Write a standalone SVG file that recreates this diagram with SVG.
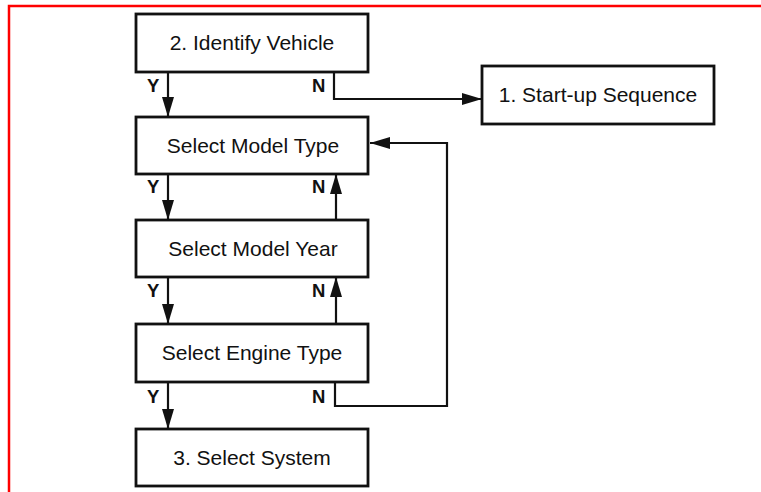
<svg xmlns="http://www.w3.org/2000/svg" width="761" height="492" viewBox="0 0 761 492">
<style>
.box{fill:#fff;stroke:#111;stroke-width:2.8}
.lbl{font-family:"Liberation Sans",Arial,sans-serif;font-size:21px;fill:#111;text-anchor:middle}
.yn{font-family:"Liberation Sans",Arial,sans-serif;font-size:18.5px;font-weight:bold;fill:#111}
.con{fill:none;stroke:#111;stroke-width:2.2}
</style>
<defs>
<marker id="ah" viewBox="0 0 20 12" refX="20" refY="6" markerWidth="20" markerHeight="12" markerUnits="userSpaceOnUse" orient="auto">
<path d="M0,0 L20,6 L0,12 Z" fill="#111"/>
</marker>
</defs>
<rect width="761" height="492" fill="#fff"/>
<path d="M9,492 V6 H761" fill="none" stroke="#f00" stroke-width="2.5"/>
<g id="identify"><rect class="box" x="136" y="14" width="232" height="58"/><text class="lbl" x="252" y="50">2. Identify Vehicle</text></g>
<g id="startup"><rect class="box" x="482" y="66" width="232" height="58"/><text class="lbl" x="598" y="102">1. Start-up Sequence</text></g>
<g id="modeltype"><rect class="box" x="136" y="117" width="232" height="57"/><text class="lbl" x="253" y="153">Select Model Type</text></g>
<g id="modelyear"><rect class="box" x="136" y="220" width="232" height="57"/><text class="lbl" x="253" y="256">Select Model Year</text></g>
<g id="enginetype"><rect class="box" x="136" y="324" width="232" height="58"/><text class="lbl" x="252" y="360">Select Engine Type</text></g>
<g id="system"><rect class="box" x="136" y="429" width="232" height="57"/><text class="lbl" x="252" y="465">3. Select System</text></g>
<g id="connectors">
<path class="con" d="M168,73 V117" marker-end="url(#ah)"/>
<path class="con" d="M334,73 V99 H482" marker-end="url(#ah)"/>
<path class="con" d="M168,175 V220" marker-end="url(#ah)"/>
<path class="con" d="M336,219 V174" marker-end="url(#ah)"/>
<path class="con" d="M168,278 V324" marker-end="url(#ah)"/>
<path class="con" d="M336,323 V277" marker-end="url(#ah)"/>
<path class="con" d="M168,383 V429" marker-end="url(#ah)"/>
<path class="con" d="M335,383 V406 H447 V143 H370" marker-end="url(#ah)"/>
<text class="yn" x="147" y="92">Y</text><text class="yn" x="312" y="92">N</text>
<text class="yn" x="147" y="193">Y</text><text class="yn" x="312" y="193">N</text>
<text class="yn" x="147" y="297">Y</text><text class="yn" x="312" y="297">N</text>
<text class="yn" x="147" y="403">Y</text><text class="yn" x="312" y="403">N</text>
</g>
</svg>
